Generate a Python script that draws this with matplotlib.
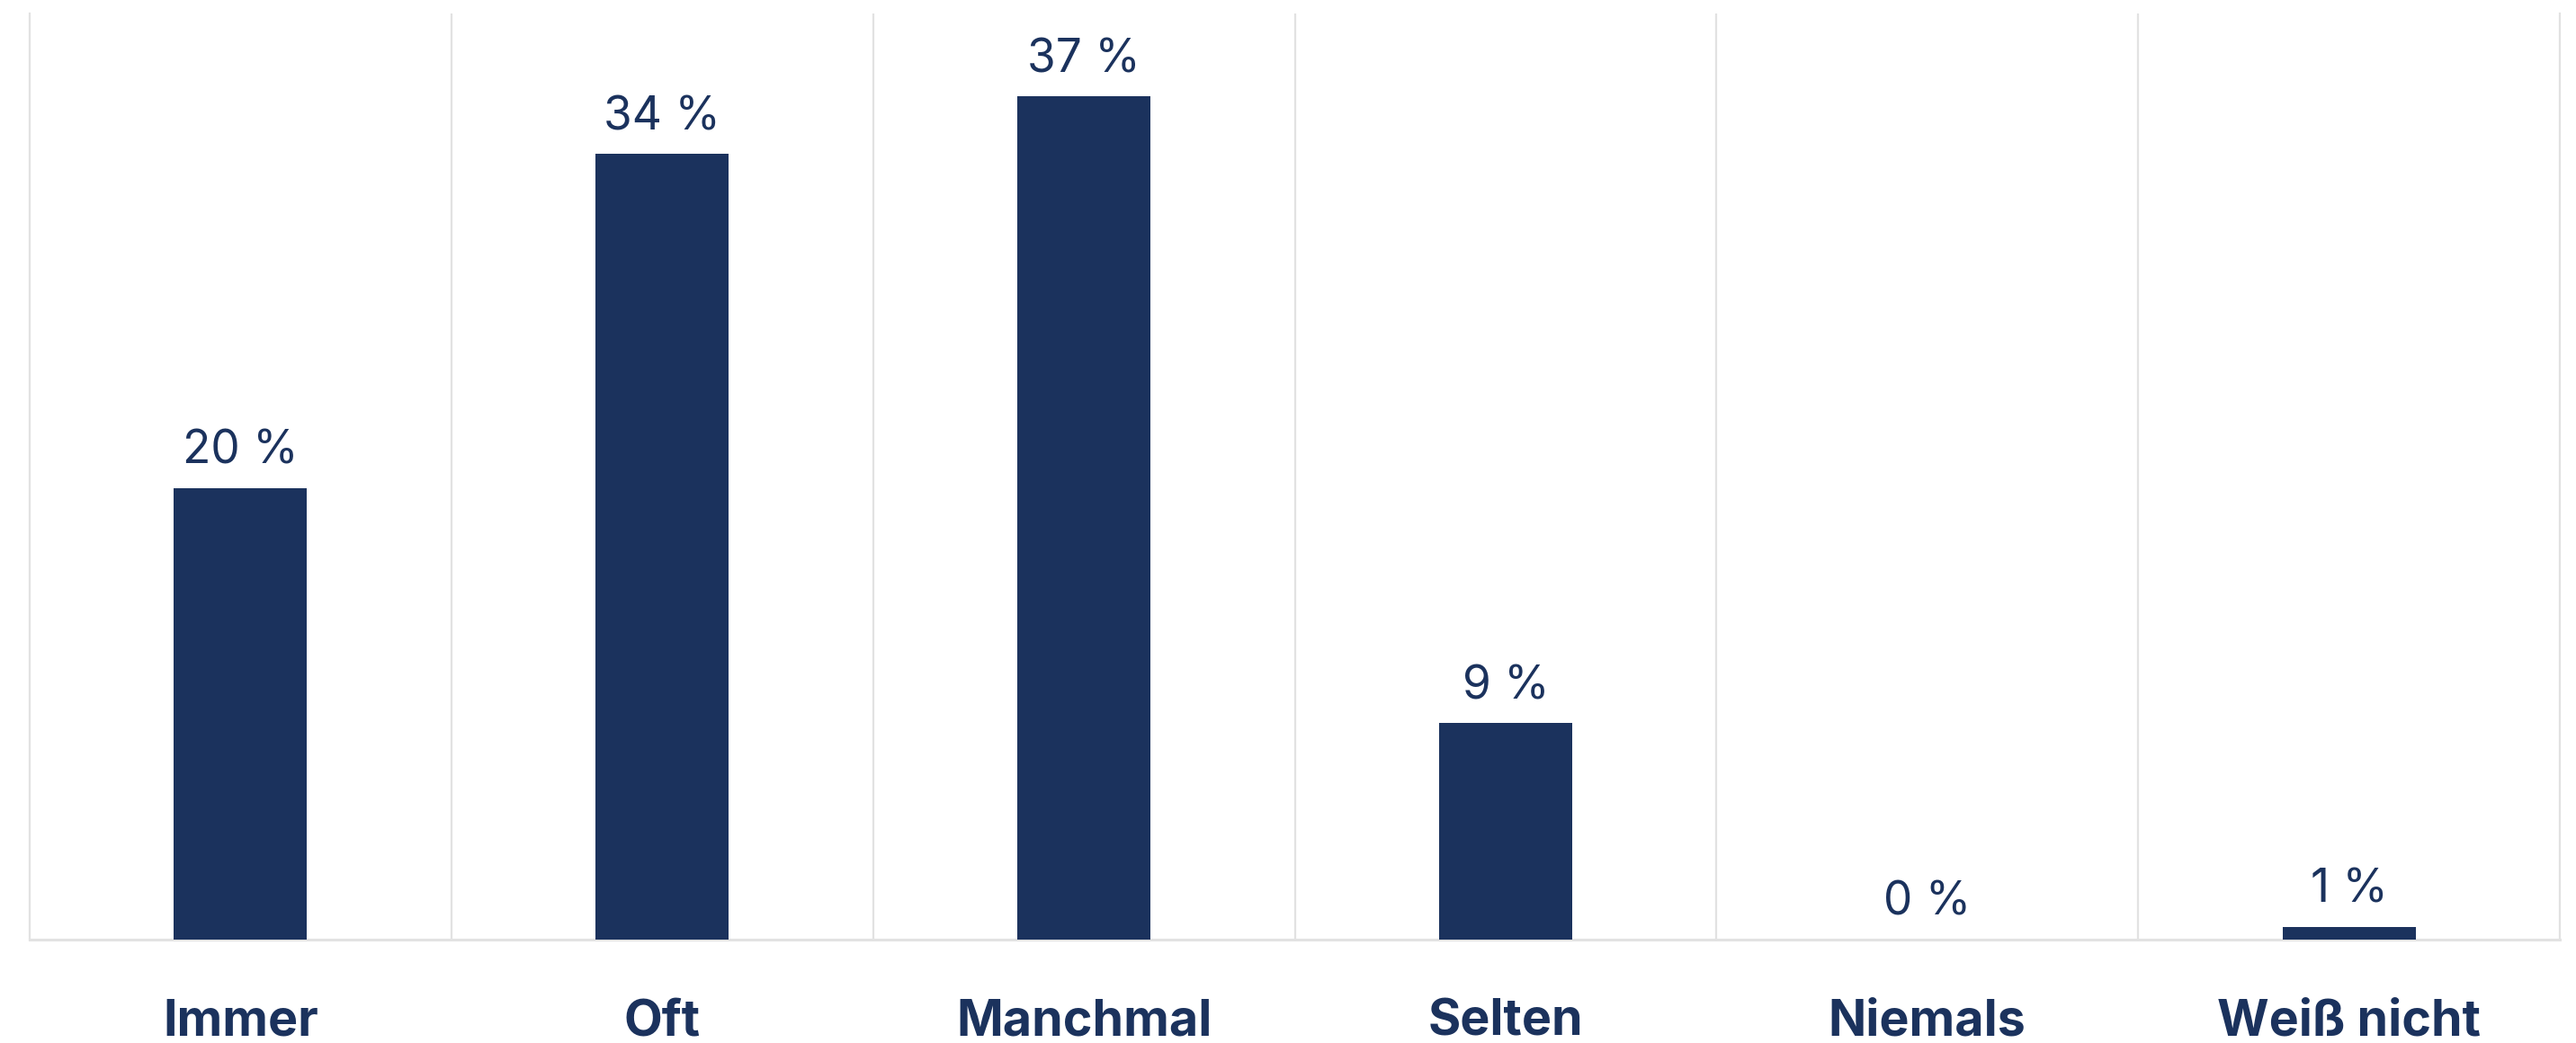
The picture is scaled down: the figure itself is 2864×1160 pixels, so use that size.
import numpy as np
import matplotlib.pyplot as plt

categories = ["Immer", "Oft", "Manchmal", "Selten", "Niemals", "Weiß nicht"]
shares = [19.6, 34.1, 36.6, 9.4, 0.0, 0.55]

navy = "#1b325d"
grid_col = "#e2e2e2"

plt.rcParams["font.family"] = ["Inter", "DejaVu Sans"]

fig = plt.figure(figsize=(28.64, 11.6), dpi=100)
ax = fig.add_axes([33 / 2864, 1 - 1045 / 1160, (2846 - 33) / 2864, (1045 - 15) / 1160])

x = np.arange(len(categories))
bars = ax.bar(x, shares, width=0.316, color=navy, zorder=3)

ax.set_xlim(-0.5, len(categories) - 0.5)
ax.set_ylim(0, 40.2)

# separators between categories
ax.set_xticks(x[:-1] + 0.5, minor=True)
ax.grid(which="minor", axis="x", color=grid_col, linewidth=1.6, zorder=0)
ax.set_xticks([])
ax.set_yticks([])
ax.tick_params(which="both", length=0)

ax.spines["top"].set_visible(False)
for s in ["left", "right"]:
    ax.spines[s].set_color(grid_col)
    ax.spines[s].set_linewidth(1.6)
ax.spines["bottom"].set_color(grid_col)
ax.spines["bottom"].set_linewidth(2.2)

for xi, v in zip(x, shares):
    ax.annotate(f"{v:.0f} %", xy=(xi, v), xytext=(0, 19.5), textcoords="offset points",
                ha="center", va="baseline", fontsize=37, color=navy)

for xi, c in zip(x, categories):
    ax.annotate(c, xy=(xi, 0), xycoords=("data", "axes fraction"), xytext=(0, -77),
                textcoords="offset points", ha="center", va="baseline",
                fontsize=40, fontweight="bold", color=navy, annotation_clip=False)

fig.savefig("out.png", dpi=100, facecolor="white")
